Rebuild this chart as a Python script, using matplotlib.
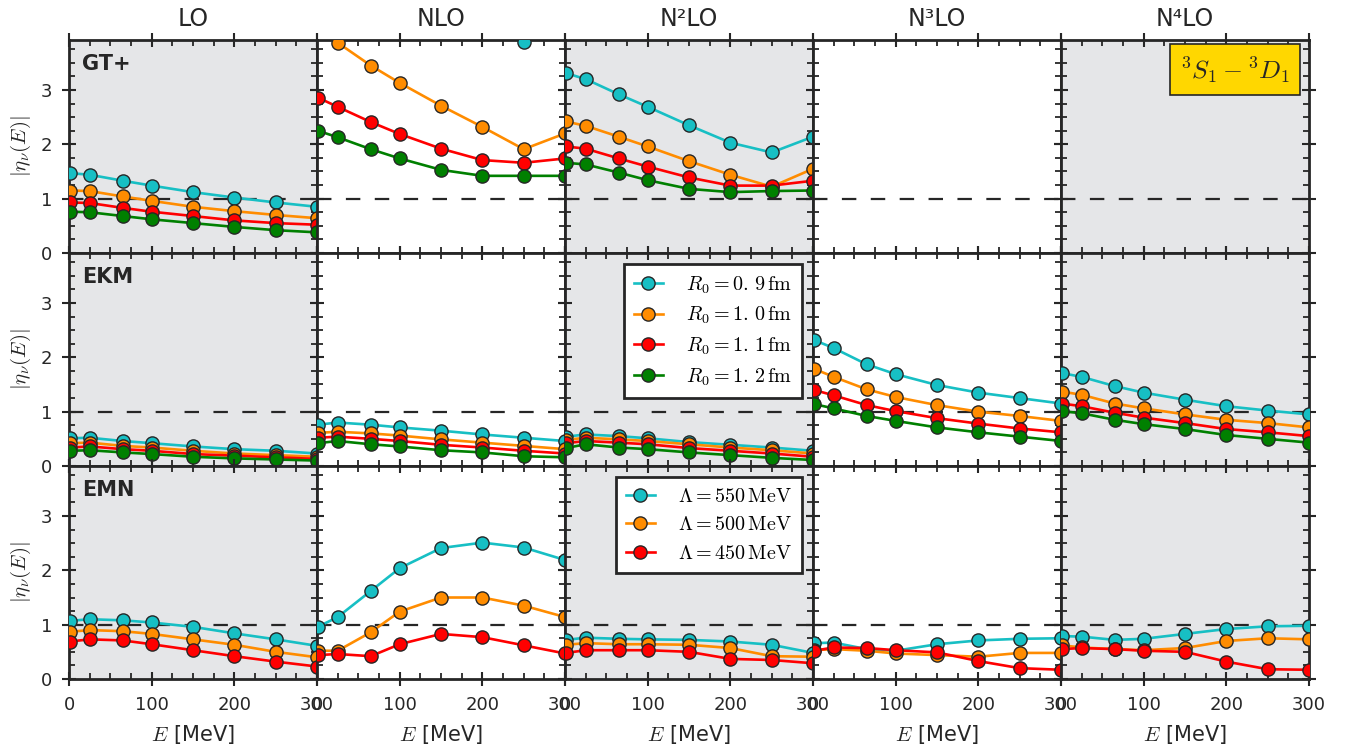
import matplotlib
matplotlib.use('Agg')
import matplotlib.pyplot as plt
from matplotlib.ticker import MultipleLocator

plt.rcParams['mathtext.fontset'] = 'cm'
plt.rcParams['font.family'] = ['DejaVu Sans']

energies = [1, 25, 65, 100, 150, 200, 250, 300]
orders = ['LO', 'NLO', 'N²LO', 'N³LO', 'N⁴LO']
potentials = ['GT+', 'EKM', 'EMN']
r0_labels = [r'$R_0 = 0.\,9\,\mathrm{fm}$', r'$R_0 = 1.\,0\,\mathrm{fm}$',
             r'$R_0 = 1.\,1\,\mathrm{fm}$', r'$R_0 = 1.\,2\,\mathrm{fm}$']
lam_labels = [r'$\Lambda = 550\,\mathrm{MeV}$', r'$\Lambda = 500\,\mathrm{MeV}$',
              r'$\Lambda = 450\,\mathrm{MeV}$']
channel_label = r'$^3S_1 - ^3D_1$'

# GT+ : series R0 = 0.9, 1.0, 1.1, 1.2 fm
gt_lo = [[1.47, 1.44, 1.33, 1.24, 1.12, 1.02, 0.93, 0.85],
         [1.15, 1.14, 1.04, 0.96, 0.85, 0.77, 0.70, 0.64],
         [0.93, 0.92, 0.83, 0.76, 0.68, 0.60, 0.55, 0.52],
         [0.76, 0.75, 0.68, 0.62, 0.55, 0.48, 0.42, 0.38]]
gt_nlo = [[6.50, 6.20, 5.70, 5.30, 4.80, 4.30, 3.89, 4.30],
          [4.15, 3.87, 3.45, 3.13, 2.71, 2.32, 1.91, 2.20],
          [2.86, 2.69, 2.41, 2.19, 1.92, 1.71, 1.66, 1.74],
          [2.25, 2.13, 1.91, 1.74, 1.53, 1.42, 1.42, 1.42]]
gt_n2lo = [[3.31, 3.20, 2.92, 2.69, 2.35, 2.03, 1.85, 2.14],
           [2.42, 2.34, 2.14, 1.96, 1.69, 1.44, 1.22, 1.55],
           [1.96, 1.92, 1.74, 1.59, 1.39, 1.24, 1.24, 1.33],
           [1.66, 1.63, 1.48, 1.34, 1.18, 1.12, 1.14, 1.15]]

# EKM : series R0 = 0.9, 1.0, 1.1, 1.2 fm
ekm_lo = [[0.51, 0.52, 0.46, 0.42, 0.36, 0.31, 0.28, 0.23],
          [0.42, 0.43, 0.37, 0.34, 0.28, 0.23, 0.20, 0.17],
          [0.34, 0.36, 0.31, 0.28, 0.22, 0.19, 0.16, 0.13],
          [0.28, 0.29, 0.25, 0.22, 0.17, 0.14, 0.12, 0.10]]
ekm_nlo = [[0.76, 0.80, 0.76, 0.71, 0.65, 0.58, 0.52, 0.46],
           [0.61, 0.63, 0.60, 0.56, 0.49, 0.43, 0.37, 0.31],
           [0.52, 0.54, 0.50, 0.46, 0.39, 0.34, 0.28, 0.23],
           [0.42, 0.46, 0.40, 0.36, 0.29, 0.25, 0.18, 0.16]]
ekm_n2lo = [[0.54, 0.58, 0.55, 0.51, 0.44, 0.39, 0.34, 0.28],
            [0.48, 0.52, 0.49, 0.46, 0.40, 0.34, 0.29, 0.23],
            [0.42, 0.46, 0.43, 0.40, 0.33, 0.28, 0.23, 0.17],
            [0.33, 0.40, 0.34, 0.31, 0.25, 0.20, 0.15, 0.11]]
ekm_n3lo = [[2.32, 2.17, 1.87, 1.69, 1.49, 1.35, 1.25, 1.15],
            [1.79, 1.64, 1.41, 1.27, 1.12, 1.00, 0.92, 0.83],
            [1.40, 1.30, 1.12, 1.01, 0.88, 0.78, 0.69, 0.62],
            [1.14, 1.06, 0.92, 0.83, 0.71, 0.62, 0.54, 0.46]]
ekm_n4lo = [[1.71, 1.64, 1.47, 1.35, 1.22, 1.10, 1.02, 0.95],
            [1.37, 1.31, 1.15, 1.06, 0.95, 0.85, 0.79, 0.71],
            [1.15, 1.10, 0.98, 0.89, 0.79, 0.68, 0.62, 0.55],
            [1.01, 0.97, 0.85, 0.77, 0.68, 0.57, 0.50, 0.43]]

# EMN : series Lambda = 550, 500, 450 MeV
emn_lo = [[1.07, 1.10, 1.08, 1.04, 0.96, 0.84, 0.73, 0.61],
          [0.87, 0.90, 0.88, 0.83, 0.73, 0.63, 0.50, 0.40],
          [0.69, 0.73, 0.71, 0.64, 0.53, 0.42, 0.32, 0.23]]
emn_nlo = [[0.96, 1.14, 1.62, 2.04, 2.41, 2.51, 2.42, 2.19],
           [0.52, 0.52, 0.86, 1.24, 1.50, 1.50, 1.35, 1.14],
           [0.44, 0.46, 0.42, 0.64, 0.83, 0.77, 0.62, 0.47]]
emn_n2lo = [[0.72, 0.76, 0.74, 0.73, 0.72, 0.69, 0.63, 0.48],
            [0.63, 0.66, 0.64, 0.64, 0.63, 0.57, 0.42, 0.41],
            [0.48, 0.53, 0.53, 0.53, 0.50, 0.37, 0.35, 0.29]]
emn_n3lo = [[0.66, 0.67, 0.55, 0.52, 0.64, 0.71, 0.74, 0.75],
            [0.53, 0.55, 0.52, 0.47, 0.44, 0.41, 0.48, 0.48],
            [0.52, 0.58, 0.57, 0.53, 0.49, 0.33, 0.20, 0.17]]
emn_n4lo = [[0.79, 0.78, 0.72, 0.74, 0.83, 0.92, 0.97, 0.98],
            [0.62, 0.58, 0.55, 0.53, 0.57, 0.70, 0.75, 0.73],
            [0.55, 0.57, 0.55, 0.52, 0.50, 0.32, 0.18, 0.17]]

panel_data = [[gt_lo, gt_nlo, gt_n2lo, None, None],
              [ekm_lo, ekm_nlo, ekm_n2lo, ekm_n3lo, ekm_n4lo],
              [emn_lo, emn_nlo, emn_n2lo, emn_n3lo, emn_n4lo]]

colors = ['#17bfc4', '#ff8c00', '#ff0000', '#008000']
gray_bg = '#e5e6e8'
dark = '#262626'

fig, axes = plt.subplots(3, 5, figsize=(13.48, 7.46), dpi=100, sharex=True, sharey=True)
fig.subplots_adjust(left=0.0512, right=0.9711, top=0.9464, bottom=0.0898,
                    wspace=0, hspace=0)

for r in range(3):
    labels = lam_labels if r == 2 else r0_labels
    for c in range(5):
        ax = axes[r, c]
        ax.set_facecolor(gray_bg if c % 2 == 0 else 'white')
        ax.set_xlim(0, 300)
        ax.set_ylim(0, 3.92)
        ax.axhline(1.0, color=dark, lw=1.6, dashes=(6.5, 6.5), zorder=1)
        data = panel_data[r][c]
        if data is not None:
            for i, vals in enumerate(data):
                ax.plot(energies, vals, '-o', color=colors[i], lw=1.9,
                        ms=9.5, mfc=colors[i], mec=dark, mew=1.0,
                        label=labels[i], zorder=3)
        ax.xaxis.set_major_locator(MultipleLocator(100))
        ax.xaxis.set_minor_locator(MultipleLocator(25))
        ax.yaxis.set_major_locator(MultipleLocator(1))
        ax.yaxis.set_minor_locator(MultipleLocator(0.25))
        ax.tick_params(which='major', direction='inout', length=10, width=1.5,
                       color=dark, top=True, right=True, labelsize=13,
                       labelcolor=dark, pad=7)
        ax.tick_params(which='minor', direction='in', length=4.5, width=1.3,
                       color=dark, top=True, right=True)
        for s in ax.spines.values():
            s.set_linewidth(2.0)
            s.set_color(dark)
        if c != 0:
            ax.tick_params(labelleft=False)
        else:
            ax.set_ylabel(r'$|\eta_\nu(E)|$', fontsize=15, color=dark, labelpad=6)
        if r != 2:
            ax.tick_params(labelbottom=False)
        else:
            ax.set_xlabel(r'$E$ [MeV]', fontsize=15, color=dark, labelpad=7)
        if r == 0:
            ax.set_title(orders[c], fontsize=17, color=dark, pad=10)
        if c == 0:
            ax.text(0.053, 0.935, potentials[r], transform=ax.transAxes,
                    fontsize=15, fontweight='bold', color=dark, va='top', ha='left')

axes[0, 4].text(0.922, 0.933, channel_label, transform=axes[0, 4].transAxes,
                ha='right', va='top', fontsize=18.5, color=dark, zorder=5,
                bbox=dict(boxstyle='square,pad=0.4', fc='#ffd700', ec=dark, lw=1.2))

for r in (1, 2):
    leg = axes[r, 2].legend(loc='upper right', fontsize=14.5, frameon=True,
                            fancybox=False, framealpha=1, edgecolor=dark,
                            handlelength=1.45, handletextpad=1.15, labelspacing=0.46,
                            borderpad=0.5, borderaxespad=0.55)
    leg.get_frame().set_linewidth(2.0)
    leg.set_zorder(10)

fig.savefig('out.png', dpi=100)
